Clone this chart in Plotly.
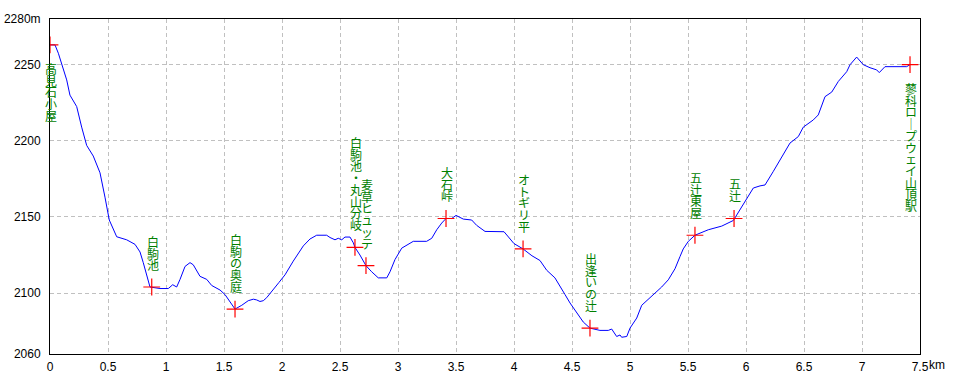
import plotly.graph_objects as go

# ---- profile data (distance km, elevation m) ----
dist_km = [0, 0.043, 0.072, 0.101, 0.144, 0.172, 0.230, 0.273, 0.316, 0.373,
           0.431, 0.474, 0.511, 0.575, 0.661, 0.733, 0.776, 0.804, 0.834, 0.862,
           0.948, 1.020, 1.058, 1.092, 1.121, 1.164, 1.207, 1.235, 1.293, 1.351,
           1.394, 1.466, 1.509, 1.552, 1.595, 1.653, 1.709, 1.753, 1.782, 1.810,
           1.839, 1.868, 1.925, 1.974, 2.026, 2.097, 2.184, 2.241, 2.299, 2.385,
           2.414, 2.457, 2.485, 2.515, 2.543, 2.586, 2.615, 2.629, 2.672, 2.724,
           2.773, 2.830, 2.903, 2.931, 2.974, 3.032, 3.132, 3.247, 3.291, 3.334,
           3.377, 3.414, 3.463, 3.500, 3.563, 3.635, 3.678, 3.750, 3.914, 3.957,
           4.000, 4.078, 4.155, 4.224, 4.282, 4.353, 4.397, 4.440, 4.483, 4.540,
           4.597, 4.655, 4.741, 4.813, 4.842, 4.885, 4.914, 4.928, 4.972, 5.000,
           5.058, 5.101, 5.158, 5.216, 5.273, 5.330, 5.388, 5.431, 5.459, 5.503,
           5.560, 5.675, 5.791, 5.891, 5.948, 6.006, 6.063, 6.121, 6.164, 6.236,
           6.308, 6.379, 6.451, 6.494, 6.580, 6.623, 6.681, 6.739, 6.796, 6.868,
           6.897, 6.954, 7.011, 7.069, 7.126, 7.149, 7.198, 7.385, 7.414]
elev_m = [2263, 2263, 2257.5, 2251, 2240, 2230, 2222.5, 2209, 2197, 2190,
          2179, 2163, 2148, 2137, 2135, 2132, 2127, 2120, 2111, 2104,
          2103, 2103, 2105.5, 2104, 2109, 2117.5, 2120, 2118.6, 2111, 2109,
          2105, 2102, 2099, 2094.5, 2089.5, 2092, 2095, 2096, 2095.5, 2094.5,
          2095, 2097, 2102, 2107, 2112, 2121, 2131, 2135.5, 2138, 2138,
          2136.5, 2135, 2136, 2135, 2136.8, 2136.8, 2133, 2130, 2125, 2118,
          2114, 2110, 2110, 2114, 2122, 2129.5, 2134, 2134, 2136, 2141.6,
          2146, 2149, 2149, 2151, 2148.6, 2148, 2144.5, 2140.5, 2140.3, 2136,
          2132.5, 2129, 2124.5, 2121.4, 2115, 2110, 2104, 2099, 2093.5, 2087,
          2081, 2077, 2075.5, 2075.5, 2076.4, 2071.5, 2072.5, 2071, 2071.5, 2077,
          2083.6, 2092, 2096, 2100.5, 2104, 2108.7, 2116, 2124, 2129, 2134,
          2138, 2141.6, 2144, 2147.7, 2154.7, 2162, 2169, 2170.4, 2171, 2180,
          2189.7, 2198.5, 2202.8, 2209, 2213.7, 2217, 2229, 2232, 2239, 2245.4,
          2250, 2255, 2250, 2248, 2246.6, 2244.8, 2248.7, 2248.7, 2250]

# ---- waypoints ----
wp_names = ["高見石小屋", "白駒池", "白駒の奥庭", "白駒池・丸山分岐", "麦草ヒュッテ",
            "大石峠", "オトギリ平", "出逢いの辻", "五辻東屋", "五辻",
            "蓼科ロープウェイ山頂駅"]
wp_km = [0.0, 0.877, 1.595, 2.629, 2.724, 3.414, 4.078, 4.655, 5.560, 5.897, 7.414]
wp_elev = [2263, 2104, 2089.5, 2130, 2118, 2149, 2129, 2077, 2138, 2149, 2250]
wp_below = [True, False, False, False, False, False, False, False, False, False, True]

# ---- axis ticks ----
x_ticks = [0, 0.5, 1, 1.5, 2, 2.5, 3, 3.5, 4, 4.5, 5, 5.5, 6, 6.5, 7, 7.5]
x_ticklabels = ["0", "0.5", "1", "1.5", "2", "2.5", "3", "3.5", "4", "4.5",
                "5", "5.5", "6", "6.5", "7", "7.5"]
y_ticks = [2060, 2100, 2150, 2200, 2250, 2280]
y_ticklabels = ["2060", "2100", "2150", "2200", "2250", "2280m"]

fig = go.Figure()
fig.add_trace(go.Scatter(x=dist_km, y=elev_m, mode="lines",
                         line=dict(color="#0000ff", width=1), hoverinfo="skip"))
fig.add_trace(go.Scatter(x=wp_km, y=wp_elev, mode="markers",
                         marker=dict(symbol="cross-thin", size=12,
                                     line=dict(color="#ff0000", width=1.2)),
                         hoverinfo="skip"))

# vertical (stacked) labels: one character per line; base font 9 gives ~11.7px line pitch
vert_map = {"ー": "｜"}
annotations = []
for name, xk, ev, below in zip(wp_names, wp_km, wp_elev, wp_below):
    chars = [vert_map.get(c, c) for c in name]
    txt = "<br>".join(f"<span style='font-size:12px'>{c}</span>" for c in chars)
    annotations.append(dict(x=xk, y=ev, xref="x", yref="y", text=txt,
                            showarrow=False, xanchor="center",
                            yanchor="top" if below else "bottom",
                            xshift=1, yshift=-13 if below else 12,
                            font=dict(family="Noto Sans CJK JP", size=9,
                                      color="#008000")))
annotations.append(dict(x=7.5, y=0, xref="x", yref="paper", text="km",
                        showarrow=False, xanchor="left", yanchor="middle",
                        xshift=7, yshift=-11,
                        font=dict(family="Liberation Sans", size=12, color="black")))

grid = dict(showgrid=True, gridcolor="#c0c0c0", gridwidth=1, griddash="4px,3px",
            showline=True, linecolor="black", linewidth=1, mirror=True,
            zeroline=False, ticks="", automargin=False,
            tickfont=dict(family="Liberation Sans", size=12, color="black"))

fig.update_layout(
    width=960, height=384,
    margin=dict(l=50, r=40, t=19, b=30, autoexpand=False),
    paper_bgcolor="white", plot_bgcolor="white",
    showlegend=False,
    annotations=annotations,
    xaxis=dict(range=[0, 7.5], tickvals=x_ticks, ticktext=x_ticklabels,
               ticklabelstandoff=2, **grid),
    yaxis=dict(range=[2060, 2280], tickvals=y_ticks, ticktext=y_ticklabels,
               ticklabelstandoff=6, **grid),
)

fig.write_html("out.html", config={"displayModeBar": False},
               post_script="document.body.style.margin='0px';document.body.style.padding='0px';")
